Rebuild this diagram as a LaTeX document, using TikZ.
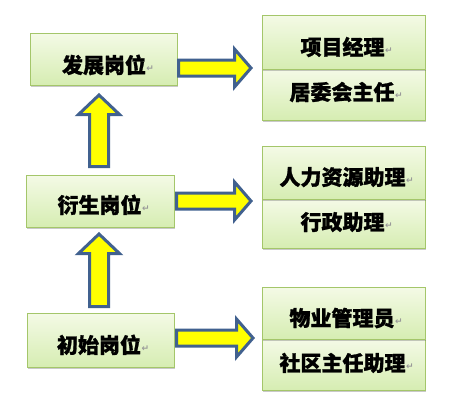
\documentclass[tikz,border=0pt]{standalone}
\usepackage{fontspec}
\newfontfamily\cjk{Noto Sans CJK SC}[BoldFeatures={FakeBold=1.2}]
\newfontfamily\markfont{DejaVu Sans}
\usetikzlibrary{shadows,calc}
\definecolor{boxtop}{HTML}{F4FAE6}
\definecolor{boxbot}{HTML}{D6EDB2}
\definecolor{boxline}{HTML}{A4C66A}
\definecolor{arrline}{HTML}{41618F}
\definecolor{arrfill}{HTML}{FFFF00}
\newcommand{\parmark}{\rlap{\hspace{0.5pt}\raisebox{2pt}{\markfont\fontsize{9}{9}\selectfont\textcolor{gray!80}{↵}}}}
\tikzset{
  greenbox/.style={draw=boxline, line width=1pt, top color=boxtop, bottom color=boxbot,
    drop shadow={shadow xshift=1pt, shadow yshift=-2pt, opacity=0.35, fill=black!60}},
  lbl/.style={anchor=base, inner sep=0pt, font=\cjk\bfseries\fontsize{21}{21}\selectfont},
  blockarrow/.style={draw=arrline, fill=arrfill, line width=3pt, line join=miter}
}
% horizontal block arrow: #1 start, #2 tip
\newcommand{\harrow}[2]{%
  \path[blockarrow] let \p1=(#1), \p2=(#2) in
    (\x1,\y1+8pt) -- (\x2-16.5pt,\y1+8pt) -- (\x2-16.5pt,\y1+19pt) -- (\x2,\y1)
    -- (\x2-16.5pt,\y1-19pt) -- (\x2-16.5pt,\y1-8pt) -- (\x1,\y1-8pt) -- cycle;}
% vertical block arrow upwards: #1 start (bottom), #2 tip (top)
\newcommand{\varrow}[2]{%
  \path[blockarrow] let \p1=(#1), \p2=(#2) in
    (\x1-9.5pt,\y1) -- (\x1-9.5pt,\y2-19.5pt) -- (\x1-20.5pt,\y2-19.5pt) -- (\x1,\y2)
    -- (\x1+20.5pt,\y2-19.5pt) -- (\x1+9.5pt,\y2-19.5pt) -- (\x1+9.5pt,\y1) -- cycle;}
\begin{document}
\begin{tikzpicture}[x=1pt,y=-1pt]
\useasboundingbox (0,0) rectangle (450,400);
\fill[white] (0,0) rectangle (450,400);

% left boxes
\draw[greenbox] (30,33) rectangle (177,85);
\node[lbl] (fz) at (104,73) {发展岗位\parmark};
\draw[greenbox] (26,175) rectangle (174,227);
\node[lbl] (ys) at (99.5,213) {衍生岗位\parmark};
\draw[greenbox] (27,313) rectangle (174,367);
\node[lbl] (cs) at (99,353) {初始岗位\parmark};

% right groups (lower first so upper shadow falls on it)
\draw[greenbox] (262,69) rectangle (425,120);
\draw[greenbox] (262,15) rectangle (425,69);
\node[lbl] (xm) at (342.5,55) {项目经理\parmark};
\node[lbl] (jw) at (342,100) {居委会主任\parmark};

\draw[greenbox] (262,199) rectangle (425,248);
\draw[greenbox] (262,146) rectangle (425,199);
\node[lbl] (rl) at (342.5,185) {人力资源助理\parmark};
\node[lbl] (xz) at (342.5,230) {行政助理\parmark};

\draw[greenbox] (262,339) rectangle (425,390);
\draw[greenbox] (262,287) rectangle (425,339);
\node[lbl] (wy) at (342,326) {物业管理员\parmark};
\node[lbl] (sq) at (342.5,371) {社区主任助理\parmark};

% arrow end points
\coordinate (h1s) at (178.5,68);  \coordinate (h1e) at (251,68);
\coordinate (h2s) at (176.5,201); \coordinate (h2e) at (251,201);
\coordinate (h3s) at (176.5,338); \coordinate (h3e) at (253,338);
\coordinate (v1s) at (99,166.5);  \coordinate (v1e) at (99,95);
\coordinate (v2s) at (99,306.5);  \coordinate (v2e) at (99,234);

\harrow{h1s}{h1e}
\harrow{h2s}{h2e}
\harrow{h3s}{h3e}
\varrow{v1s}{v1e}
\varrow{v2s}{v2e}
\end{tikzpicture}
\end{document}
